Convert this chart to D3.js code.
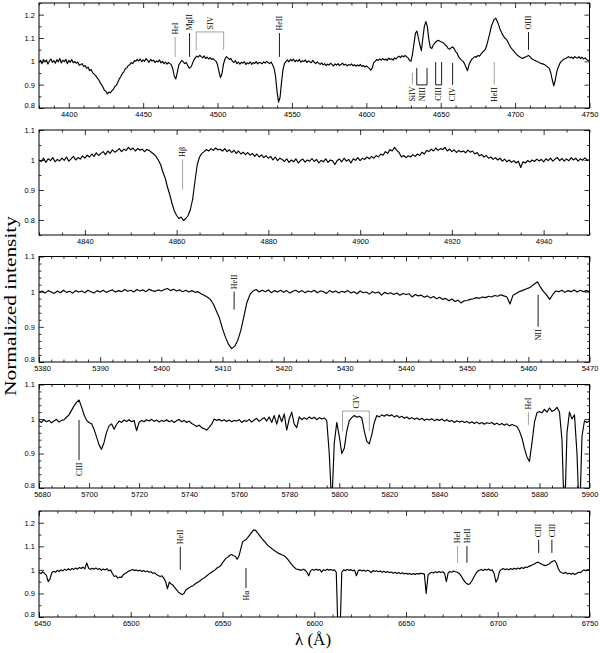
<!DOCTYPE html>
<html><head><meta charset="utf-8">
<script src="https://cdn.jsdelivr.net/npm/d3@7"></script>
<style>body{margin:0;background:#fff}svg{display:block}</style>
</head><body>
<svg id="c" width="600" height="653"></svg>
<script>
// ---------- DATA (normalized flux sampled on a uniform wavelength grid) ----------
const p1Start = 4380, p1Step = 1;
const p1Flux = [
0.995,1.004,0.99,1.008,0.997,1.006,0.988,1.002,1.01,0.996,
1.003,0.992,1.007,0.998,1.012,0.993,1.005,0.999,1.009,0.99,
1.004,0.996,1.008,0.994,0.999,0.992,0.997,0.983,0.986,0.99,
0.978,0.982,0.97,0.975,0.96,0.965,0.952,0.945,0.94,0.93,
0.922,0.91,0.9,0.89,0.875,0.872,0.86,0.868,0.865,0.874,
0.88,0.892,0.898,0.91,0.925,0.935,0.948,0.955,0.968,0.972,
0.982,0.985,0.995,0.99,1.003,1.0,1.008,1.002,1.01,0.998,
1.006,1.0,1.012,1.004,0.996,1.008,1.001,1.005,0.995,1.002,
0.998,1.006,0.993,1.0,0.99,0.997,0.988,0.995,0.99,0.985,
0.965,0.935,0.925,0.955,0.985,0.995,1.004,0.998,0.99,0.995,
0.982,0.97,0.975,0.988,1.005,1.015,1.022,1.018,1.026,1.02,
1.015,1.023,1.012,1.018,1.01,1.016,1.008,1.012,1.005,1.0,
0.985,0.955,0.93,0.948,0.988,1.01,1.02,1.015,1.008,1.012,
1.0,0.995,1.003,0.99,0.997,0.988,0.996,0.992,0.999,0.986,
0.994,0.99,0.998,0.987,0.995,0.991,0.999,0.989,0.996,0.993,
0.99,0.998,0.992,1.0,0.995,0.99,0.997,0.985,0.97,0.935,
0.87,0.825,0.845,0.91,0.965,0.99,1.0,1.006,0.998,1.008,
1.002,1.01,0.998,1.005,1.0,1.008,0.996,1.003,0.999,1.006,
0.995,1.002,0.998,0.994,1.004,0.996,0.99,0.998,0.992,0.987,
0.993,0.985,0.99,0.982,0.988,0.984,0.992,0.986,0.98,0.989,
0.984,0.99,0.982,0.986,0.992,0.984,0.988,0.98,0.986,0.983,
0.989,0.981,0.986,0.979,0.985,0.98,0.987,0.978,0.982,0.976,
0.98,0.975,0.97,0.962,0.972,0.995,1.0,1.008,1.004,1.01,
1.005,1.012,1.006,1.01,1.003,1.014,1.008,1.011,1.005,1.015,
1.01,1.018,1.022,1.016,1.024,1.019,1.025,1.02,1.015,1.005,
1.0,1.03,1.075,1.12,1.13,1.1,1.07,1.046,1.1,1.15,
1.17,1.15,1.095,1.06,1.055,1.07,1.078,1.085,1.09,1.088,
1.084,1.082,1.078,1.07,1.066,1.055,1.052,1.058,1.062,1.055,
1.042,1.035,1.02,1.012,1.005,1.0,0.99,0.975,0.96,0.985,
1.0,1.01,1.015,1.02,1.018,1.025,1.022,1.03,1.038,1.045,
1.052,1.07,1.095,1.12,1.15,1.165,1.18,1.185,1.172,1.155,
1.135,1.122,1.11,1.1,1.095,1.085,1.072,1.06,1.052,1.045,
1.036,1.03,1.024,1.02,1.015,1.012,1.016,1.018,1.022,1.025,
1.02,1.012,1.008,1.005,1.002,0.998,0.996,0.992,0.99,0.988,
0.985,0.98,0.975,0.97,0.95,0.92,0.895,0.92,0.955,0.975,
0.99,1.0,1.005,1.01,1.012,1.016,1.02,1.015,1.018,1.012,
1.02,1.016,1.014,1.02,1.012,1.018,1.01,1.015,1.008,1.005,
1.0];

const p2Start = 4830, p2Step = 0.5;
const p2Flux = [
1.0,0.995,1.006,0.992,1.004,0.998,1.008,0.994,1.002,0.997,
1.006,0.999,1.01,0.996,1.004,1.012,1.0,1.008,1.003,1.014,
1.006,1.016,1.01,1.02,1.012,1.024,1.015,1.022,1.028,1.018,
1.03,1.022,1.034,1.026,1.031,1.038,1.028,1.036,1.032,1.042,
1.034,1.04,1.03,1.038,1.033,1.036,1.028,1.035,1.032,1.026,
1.02,1.012,1.0,0.985,0.96,0.94,0.91,0.885,0.855,0.83,
0.815,0.805,0.81,0.798,0.805,0.815,0.835,0.87,0.93,0.985,
1.01,1.022,1.028,1.035,1.03,1.038,1.032,1.04,1.034,1.036,
1.03,1.038,1.028,1.034,1.025,1.032,1.022,1.03,1.02,1.026,
1.018,1.025,1.016,1.022,1.012,1.02,1.01,1.017,1.008,1.014,
1.006,1.012,1.0,1.01,0.998,1.006,1.002,0.995,1.004,0.992,
1.0,0.994,1.004,0.99,0.998,1.003,0.993,1.0,0.996,1.005,
0.995,1.002,0.99,0.999,0.994,1.004,0.992,1.0,0.997,0.985,
0.998,1.003,0.994,1.006,0.996,1.002,0.99,1.004,0.999,1.008,
0.998,1.006,1.002,1.01,1.004,1.012,1.006,1.015,1.01,1.02,
1.016,1.028,1.022,1.035,1.03,1.042,1.032,1.025,1.01,1.015,
1.008,1.014,1.01,1.018,1.012,1.02,1.015,1.026,1.02,1.032,
1.028,1.036,1.03,1.04,1.032,1.038,1.035,1.042,1.03,1.036,
1.028,1.034,1.025,1.032,1.027,1.03,1.024,1.033,1.026,1.03,
1.02,1.025,1.014,1.018,1.01,1.015,1.006,1.01,1.002,1.008,
1.0,1.006,0.996,1.003,0.994,1.0,0.992,0.998,0.99,0.996,
0.975,0.994,0.99,0.998,0.993,1.0,0.995,1.003,0.997,1.002,
0.994,1.004,0.998,1.006,0.996,1.003,1.008,0.998,1.005,0.996,
1.004,0.997,1.008,1.0,1.006,0.996,1.004,0.999,1.007,1.0,
1.0];

const p3Start = 5380, p3Step = 0.5;
const p3Flux = [
0.998,1.002,0.996,1.003,0.999,0.995,1.002,0.997,1.004,0.998,
1.001,0.996,1.003,0.999,1.002,0.997,1.004,1.0,0.996,1.003,
0.999,1.004,0.998,1.002,1.005,0.999,1.003,1.0,1.006,1.001,
1.004,0.999,1.006,1.002,1.005,1.0,1.007,1.003,1.001,1.005,
1.002,1.006,1.009,1.003,1.007,1.002,1.005,1.0,1.004,0.999,
1.003,0.998,1.0,0.994,0.99,0.985,0.978,0.965,0.945,0.925,
0.895,0.87,0.85,0.838,0.845,0.862,0.89,0.93,0.97,0.992,
1.002,1.006,0.999,1.004,1.0,1.005,0.997,1.003,0.999,1.004,
0.998,1.003,0.996,1.001,1.004,0.998,1.003,0.997,1.002,0.999,
1.004,0.997,1.002,1.0,0.995,1.003,0.998,1.002,0.996,1.001,
0.998,1.003,0.996,1.0,0.994,1.002,0.997,0.999,0.993,1.0,
0.996,0.999,0.99,0.998,0.994,0.997,0.992,0.996,0.99,0.995,
0.992,0.994,0.985,0.992,0.988,0.99,0.984,0.988,0.982,0.986,
0.98,0.984,0.978,0.981,0.974,0.979,0.972,0.976,0.968,0.974,
0.975,0.978,0.98,0.983,0.981,0.985,0.983,0.987,0.985,0.989,
0.987,0.991,0.988,0.985,0.965,0.99,0.995,1.0,1.003,1.007,
1.01,1.015,1.022,1.028,1.012,1.0,0.99,0.978,0.992,1.002,
1.0,1.004,0.998,1.003,1.0,1.005,0.999,1.004,1.0,1.003,
1.0];

const p4Start = 5680, p4Step = 1;
const p4Flux = [
0.995,0.99,0.998,0.992,0.996,0.989,0.994,0.999,0.991,0.996,
0.998,1.005,1.012,1.025,1.038,1.048,1.055,1.035,1.012,0.996,
0.99,0.986,0.97,0.948,0.925,0.912,0.932,0.962,0.98,0.986,
0.97,0.984,0.994,0.99,0.997,0.993,0.998,0.992,0.996,0.966,
0.99,0.996,0.992,0.998,0.994,0.999,0.993,0.997,0.991,0.996,
0.993,0.998,0.992,0.996,0.99,0.995,0.999,0.992,0.996,0.99,
0.994,0.987,0.983,0.978,0.982,0.975,0.972,0.968,0.976,0.985,
1.0,0.996,0.999,0.994,0.998,0.993,0.997,0.992,0.996,0.994,
0.998,0.99,0.996,0.993,0.999,0.991,0.997,1.002,0.993,0.999,
1.004,0.994,1.006,0.99,1.01,0.985,1.012,0.992,1.015,0.968,
1.0,1.02,0.985,0.975,1.006,0.998,1.004,0.999,1.006,1.001,
1.005,0.998,1.004,1.0,1.003,0.995,0.9,0.75,0.93,0.99,
0.95,0.9,0.915,0.965,0.995,1.004,1.01,1.005,1.008,1.003,
0.965,0.935,0.928,0.955,0.99,1.01,1.006,1.012,1.008,1.013,
1.009,1.012,1.006,1.01,1.004,1.008,1.002,1.006,1.0,1.004,
0.999,1.003,0.998,1.002,0.996,1.0,0.997,1.001,0.995,0.999,
0.996,1.0,0.994,0.998,0.993,0.996,0.99,0.995,0.991,0.994,
0.99,0.993,0.988,0.992,0.987,0.991,0.986,0.99,0.985,0.989,
0.987,0.99,0.984,0.988,0.983,0.987,0.982,0.986,0.98,0.984,
0.981,0.978,0.965,0.945,0.915,0.89,0.877,0.93,0.99,1.018,
1.022,1.018,1.028,1.02,1.032,1.022,1.026,1.034,1.02,0.94,
0.7,0.96,1.02,1.0,1.012,0.9,0.7,0.95,0.995,0.99,
0.995];

const p5Start = 6450, p5Step = 1;
const p5Flux = [
0.99,0.984,0.992,0.985,0.978,0.95,0.962,0.988,0.994,0.99,
0.998,0.993,1.0,0.996,1.003,0.998,1.005,0.999,1.006,1.002,
1.008,1.003,1.01,1.006,1.012,1.004,1.03,1.008,1.002,1.007,
1.003,1.008,1.002,1.006,0.998,1.004,1.0,1.005,0.996,1.0,
0.985,0.972,0.975,0.965,0.97,0.968,0.98,0.985,0.99,0.995,
0.998,1.002,0.997,1.0,0.995,0.999,0.993,0.997,0.992,0.995,
0.99,0.992,0.985,0.988,0.98,0.976,0.972,0.975,0.965,0.95,
0.92,0.948,0.94,0.935,0.925,0.915,0.905,0.9,0.895,0.9,
0.915,0.92,0.925,0.93,0.933,0.94,0.945,0.95,0.955,0.962,
0.966,0.972,0.978,0.985,0.99,0.995,1.0,1.008,1.012,1.018,
1.03,1.04,1.05,1.055,1.062,1.065,1.06,1.058,1.045,1.06,
1.09,1.12,1.125,1.13,1.14,1.15,1.16,1.17,1.168,1.158,
1.148,1.138,1.128,1.12,1.11,1.102,1.096,1.09,1.083,1.078,
1.073,1.069,1.065,1.062,1.058,1.05,1.04,1.03,1.02,1.012,
1.005,1.002,1.0,0.998,1.003,0.999,0.99,0.975,0.996,1.002,
0.998,1.003,0.999,1.002,0.99,1.001,0.997,1.003,0.999,1.002,
0.998,1.0,0.99,0.72,0.72,0.99,1.0,0.997,1.002,0.998,
1.001,0.996,0.999,0.975,0.997,1.0,0.995,0.999,0.994,0.998,
0.996,0.988,0.997,0.993,0.996,0.992,0.995,0.99,0.994,0.989,
0.993,0.988,0.991,0.986,0.99,0.985,0.989,0.984,0.988,0.983,
0.986,0.982,0.985,0.98,0.984,0.981,0.985,0.982,0.986,0.984,
0.982,0.9,0.978,0.986,0.99,0.987,0.992,0.988,0.993,0.989,
0.992,0.986,0.95,0.988,0.993,0.99,0.995,0.992,0.99,0.985,
0.975,0.962,0.95,0.942,0.938,0.942,0.955,0.97,0.984,0.994,
0.998,1.002,0.997,1.003,0.999,1.004,0.998,1.0,0.985,0.948,
0.962,0.995,1.002,1.006,1.001,1.005,1.0,1.006,1.002,1.007,
1.003,1.008,1.004,1.01,1.006,1.012,1.01,1.015,1.018,1.022,
1.025,1.03,1.033,1.028,1.024,1.02,1.018,1.022,1.025,1.032,
1.037,1.04,1.028,1.005,0.992,0.988,0.985,0.99,0.983,0.986,
0.982,0.986,0.98,0.985,0.99,0.988,0.995,1.0,0.996,1.001,
0.998];

// axis ranges and ticks (data units)
const p1X = [4380, 4750], p1Y = [0.8, 1.25];
const p2X = [4830, 4950], p2Y = [0.75, 1.1];
const p3X = [5380, 5470], p3Y = [0.8, 1.1];
const p4X = [5680, 5900], p4Y = [0.8, 1.1];
const p5X = [6450, 6750], p5Y = [0.8, 1.25];
const p1XTicks = [4400,4450,4500,4550,4600,4650,4700,4750];
const p2XTicks = [4840,4860,4880,4900,4920,4940];
const p3XTicks = [5380,5390,5400,5410,5420,5430,5440,5450,5460,5470];
const p4XTicks = [5680,5700,5720,5740,5760,5780,5800,5820,5840,5860,5880,5900];
const p5XTicks = [6450,6500,6550,6600,6650,6700,6750];
const p1YTicks = [0.8,0.9,1,1.1,1.2];
const p2YTicks = [0.8,0.9,1,1.1];
const p3YTicks = [0.8,0.9,1,1.1];
const p4YTicks = [0.8,0.9,1,1.1];
const p5YTicks = [0.8,0.9,1,1.1,1.2];

// line identifications: wavelength(s), label, flux extent of the mark, side of label
const p1Lines = [
 {lam:[4471.5], label:"HeI",  f:[1.019,1.104], side:"up"},
 {lam:[4481.2], label:"MgII", f:[1.019,1.121], side:"up"},
 {lam:[4485.7,4504.1], label:"SIV", f:[1.049,1.126], side:"up"},
 {lam:[4541.6], label:"HeII", f:[1.019,1.121], side:"up"},
 {lam:[4709.0], label:"OIII", f:[1.049,1.126], side:"up"},
 {lam:[4631.0], label:"SiIV", f:[0.903,0.950], side:"down"},
 {lam:[4633.9,4640.8], label:"NIII", f:[0.899,0.971], side:"down"},
 {lam:[4646.6,4650.6], label:"CIII", f:[0.899,0.997], side:"down"},
 {lam:[4658.0], label:"CIV",  f:[0.899,0.993], side:"down"},
 {lam:[4686.0], label:"HeII", f:[0.899,0.997], side:"down"}
];
const p2Lines = [ {lam:[4861.3], label:"H\u03b2", f:[0.9015,1.0025], side:"up"} ];
const p3Lines = [
 {lam:[5411.9], label:"HeII", f:[0.949,1.0], side:"up"},
 {lam:[5461.6], label:"NII",  f:[0.90,0.991], side:"down"}
];
const p4Lines = [
 {lam:[5696.0], label:"CIII", f:[0.881,0.997], side:"down"},
 {lam:[5801.3,5812.0], label:"CIV", f:[0.965,1.023], side:"up"},
 {lam:[5875.6], label:"HeI", f:[0.983,1.020], side:"up"}
];
const p5Lines = [
 {lam:[6527.0], label:"HeII", f:[1.0,1.098], side:"up"},
 {lam:[6562.8], label:"H\u03b1", f:[0.923,1.008], side:"down"},
 {lam:[6678.1], label:"HeI", f:[1.03,1.102], side:"up"},
 {lam:[6683.2], label:"HeII", f:[1.03,1.102], side:"up"},
 {lam:[6722.3], label:"CIII", f:[1.072,1.128], side:"up"},
 {lam:[6729.5], label:"CIII", f:[1.072,1.128], side:"up"}
];
// marks drawn in grey in the original
const greyMarks = ["HeI@4471.5","SIV@4485.7","SiIV@4631","HeII@4686","H\u03b2@4861.3","CIV@5801.3","HeI@5875.6","HeI@6678.1"];

// ---------- LAYOUT ----------
const X0 = 39, X1 = 589.5;
const panels = [
 {start:p1Start, step:p1Step, flux:p1Flux, xd:p1X, yd:p1Y, xt:p1XTicks, yt:p1YTicks, xm:10, ym:0.05, top:3,   bottom:108, lines:p1Lines},
 {start:p2Start, step:p2Step, flux:p2Flux, xd:p2X, yd:p2Y, xt:p2XTicks, yt:p2YTicks, xm:5,  ym:0.05, top:130, bottom:235, lines:p2Lines},
 {start:p3Start, step:p3Step, flux:p3Flux, xd:p3X, yd:p3Y, xt:p3XTicks, yt:p3YTicks, xm:2,  ym:0.02, top:256.5, bottom:362, lines:p3Lines},
 {start:p4Start, step:p4Step, flux:p4Flux, xd:p4X, yd:p4Y, xt:p4XTicks, yt:p4YTicks, xm:5,  ym:0.02, top:384.5, bottom:488, lines:p4Lines},
 {start:p5Start, step:p5Step, flux:p5Flux, xd:p5X, yd:p5Y, xt:p5XTicks, yt:p5YTicks, xm:10, ym:0.05, top:511, bottom:617, lines:p5Lines}
];

const svg = d3.select("#c");
const defs = svg.append("defs");
const tickFont = "'Liberation Sans', Arial, sans-serif";
const labFont = "'Liberation Serif', 'Times New Roman', serif";
const r3 = v => Math.round(v*1000)/1000;

function minorVals(domain, step, majors){
  const out = [];
  const s = Math.ceil(domain[0]/step - 1e-9), e = Math.floor(domain[1]/step + 1e-9);
  for (let k=s;k<=e;k++){ const v = r3(k*step); if (!majors.some(m=>Math.abs(m-v)<1e-6)) out.push(v); }
  return out;
}

panels.forEach((p,i)=>{
  const x = d3.scaleLinear().domain(p.xd).range([X0,X1]);
  const y = d3.scaleLinear().domain(p.yd).range([p.bottom,p.top]);
  const g = svg.append("g");
  const cid = "clip"+i;
  defs.append("clipPath").attr("id",cid).append("rect")
    .attr("x",X0).attr("y",p.top).attr("width",X1-X0).attr("height",p.bottom-p.top);

  // spectrum
  const pts = p.flux.map((f,k)=>[p.start+k*p.step, f]);
  g.append("path").datum(pts)
    .attr("clip-path",`url(#${cid})`)
    .attr("fill","none").attr("stroke","#000").attr("stroke-width",1.15).attr("stroke-linejoin","round")
    .attr("d", d3.line().x(d=>x(d[0])).y(d=>y(d[1])));

  // axes
  const xMin = minorVals(p.xd, p.xm, p.xt), yMin = minorVals(p.yd, p.ym, p.yt);
  const style = sel => { sel.select(".domain").remove(); sel.selectAll("line").attr("stroke","#000").attr("stroke-width",0.8); sel.selectAll("text").attr("font-family",tickFont).attr("font-size",7.5).attr("fill","#000"); };
  const bx = g.append("g").attr("transform",`translate(0,${p.bottom})`).call(d3.axisBottom(x).tickValues(p.xt).tickSize(-5).tickPadding(4).tickFormat(d3.format("d"))).call(style);
  // keep the corner labels apart: nudge a label that sits on the left frame edge
  bx.selectAll(".tick text").filter(d=>d===p.xd[0]).attr("dx",3);
  g.append("g").attr("transform",`translate(0,${p.bottom})`).call(d3.axisBottom(x).tickValues(xMin).tickSize(-2.5).tickFormat("")).call(style);
  g.append("g").attr("transform",`translate(0,${p.top})`).call(d3.axisTop(x).tickValues(p.xt).tickSize(-5).tickFormat("")).call(style);
  g.append("g").attr("transform",`translate(0,${p.top})`).call(d3.axisTop(x).tickValues(xMin).tickSize(-2.5).tickFormat("")).call(style);
  const ly = g.append("g").attr("transform",`translate(${X0},0)`).call(d3.axisLeft(y).tickValues(p.yt).tickSize(-5).tickPadding(4).tickFormat(d3.format("~g"))).call(style);
  ly.selectAll(".tick text").filter(d=>Math.abs(d-p.yd[0])<1e-9).attr("dy","-0.05em");
  g.append("g").attr("transform",`translate(${X0},0)`).call(d3.axisLeft(y).tickValues(yMin).tickSize(-2.5).tickFormat("")).call(style);
  g.append("g").attr("transform",`translate(${X1},0)`).call(d3.axisRight(y).tickValues(p.yt).tickSize(-5).tickFormat("")).call(style);
  g.append("g").attr("transform",`translate(${X1},0)`).call(d3.axisRight(y).tickValues(yMin).tickSize(-2.5).tickFormat("")).call(style);

  g.append("rect").attr("x",X0).attr("y",p.top).attr("width",X1-X0).attr("height",p.bottom-p.top)
    .attr("fill","none").attr("stroke","#000").attr("stroke-width",1);

  // line identifications
  p.lines.forEach(L=>{
    const key = L.label+"@"+L.lam[0];
    const col = greyMarks.includes(key) ? "#9a9a9a" : "#000";
    const yLo = y(L.f[0]), yHi = y(L.f[1]);
    let cx;
    if (L.lam.length === 1){
      cx = x(L.lam[0]);
      g.append("line").attr("x1",cx).attr("x2",cx).attr("y1",yHi).attr("y2",yLo)
        .attr("stroke",col).attr("stroke-width",0.9);
    } else {
      const xa = x(L.lam[0]), xb = x(L.lam[1]);
      cx = (xa+xb)/2;
      const bar = L.side==="up" ? yHi : yLo, end = L.side==="up" ? yLo : yHi;
      g.append("path").attr("d",`M${xa},${end}V${bar}H${xb}V${end}`)
        .attr("fill","none").attr("stroke",col).attr("stroke-width",0.9);
    }
    const t = g.append("text").text(L.label)
      .attr("font-family",labFont).attr("font-size",8).attr("fill","#000");
    if (L.side==="up"){
      t.attr("text-anchor","start").attr("transform",`translate(${cx+2.8},${yHi-2.5}) rotate(-90)`);
    } else {
      t.attr("text-anchor","end").attr("transform",`translate(${cx+2.8},${yLo+2.5}) rotate(-90)`);
    }
  });
});

// axis titles
svg.append("text").text("Normalized intensity")
  .attr("font-family",labFont).attr("font-size",17).attr("fill","#000")
  .attr("text-anchor","middle").attr("textLength",180).attr("lengthAdjust","spacingAndGlyphs")
  .attr("transform","translate(16,306) rotate(-90)");
svg.append("text").text("\u03bb (\u00c5)")
  .attr("font-family",labFont).attr("font-size",17).attr("fill","#000")
  .attr("text-anchor","middle").attr("x",313).attr("y",645);
</script>
</body></html>
